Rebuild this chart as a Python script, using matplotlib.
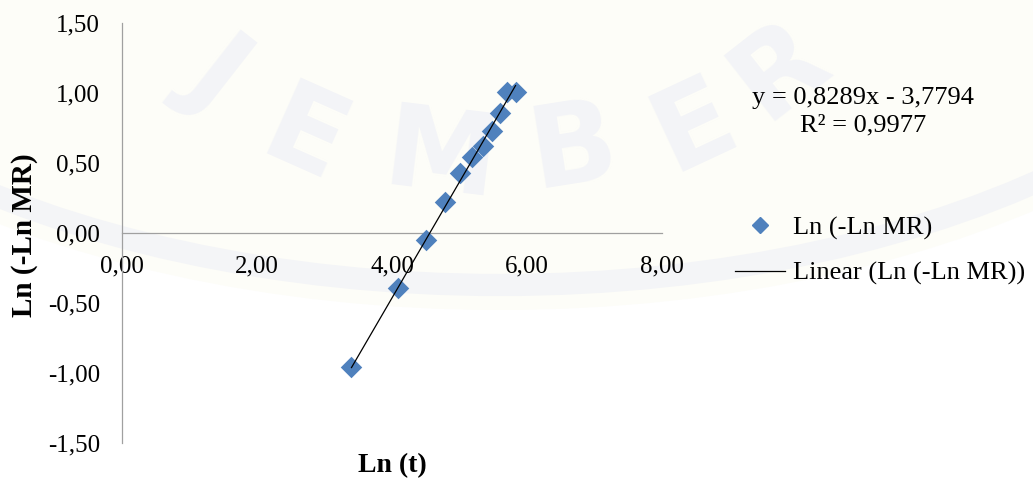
import matplotlib
matplotlib.use("Agg")
import matplotlib.pyplot as plt
import numpy as np
from matplotlib.patches import Ellipse, Arc
from matplotlib.ticker import FuncFormatter, MultipleLocator
from matplotlib.lines import Line2D

# Weibull linearisation: ln(t) against ln(-ln MR)
ln_t = [3.40, 4.09, 4.50, 4.79, 5.01, 5.19, 5.35, 5.48, 5.60, 5.71, 5.83]
ln_neg_ln_mr = [-0.96, -0.39, -0.05, 0.22, 0.43, 0.54, 0.62, 0.73, 0.86, 1.01, 1.01]

# trendline as reported
slope = 0.8289
intercept = -3.7794
r_squared = 0.9977

W, H = 1033, 482
plt.rcParams["font.family"] = ["Liberation Serif", "DejaVu Serif"]

fig = plt.figure(figsize=(W / 100, H / 100), dpi=100)
fig.patch.set_facecolor("white")


def fx(x):
    return x / W


def fy(y):
    return 1 - y / H


# faint background seal (drawn in pixel space)
bg = fig.add_axes([0, 0, 1, 1], zorder=-5)
bg.set_xlim(0, W)
bg.set_ylim(H, 0)
bg.axis("off")
bg.add_patch(Ellipse((500, -150), 1720, 920, facecolor="#fdfdf8", edgecolor="none"))
bg.add_patch(Arc((500, -150), 1660, 870, theta1=0, theta2=180,
                 color="#f4f5f7", linewidth=16))
seal_letters = ["J", "E", "M", "B", "E", "R"]
seal_x = [218, 304, 441, 573, 694, 780]
seal_y = [72, 140, 160, 150, 127, 70]
seal_rot = [-38, -24, -7, 9, 25, 38]
for ch, x, y, r in zip(seal_letters, seal_x, seal_y, seal_rot):
    bg.text(x, y, ch, rotation=r, ha="center", va="center", fontsize=82,
            fontweight="bold", family="DejaVu Sans", color="#f3f4f7")

# main axes
ax = fig.add_axes([fx(122), fy(443), 540 / W, 420 / H])
ax.patch.set_alpha(0)
ax.set_xlim(0, 8)
ax.set_ylim(-1.5, 1.5)

ax.scatter(ln_t, ln_neg_ln_mr, marker="D", s=120, color="#4f81bd", zorder=3, linewidths=0)
xs = np.array([min(ln_t), max(ln_t)])
ax.plot(xs, slope * xs + intercept, color="black", linewidth=0.9, zorder=4)

for side in ["top", "right"]:
    ax.spines[side].set_visible(False)
ax.spines["bottom"].set_position(("data", 0))
for side in ["left", "bottom"]:
    ax.spines[side].set_color("#a0a0a0")
    ax.spines[side].set_linewidth(0.9)

comma = FuncFormatter(lambda v, p: f"{v:.2f}".replace(".", ","))
ax.xaxis.set_major_locator(MultipleLocator(2))
ax.yaxis.set_major_locator(MultipleLocator(0.5))
ax.xaxis.set_major_formatter(comma)
ax.yaxis.set_major_formatter(comma)
ax.tick_params(axis="x", length=0, pad=16, labelsize=18)
ax.tick_params(axis="y", length=0, pad=16, labelsize=18)

# axis titles
fig.text(fx(25), fy(235), "Ln (-Ln MR)", rotation=90, ha="center", va="center",
         fontsize=21, fontweight="bold")
fig.text(fx(392), fy(466), "Ln (t)", ha="center", va="center",
         fontsize=20, fontweight="bold")

# trendline equation
fig.text(fx(863), fy(112),
         f"y = {slope:.4f}x - {abs(intercept):.4f}".replace(".", ",")
         + "\n" + f"R² = {r_squared:.4f}".replace(".", ","),
         ha="center", va="center", multialignment="center", fontsize=19, linespacing=1.3)

handles = [
    Line2D([], [], marker="D", linestyle="none", color="#4f81bd", markersize=8),
    Line2D([], [], color="black", linewidth=0.9),
]
fig.legend(handles, ["Ln (-Ln MR)", "Linear (Ln (-Ln MR))"], loc="upper left",
           bbox_to_anchor=(fx(735), fy(216)), frameon=False, fontsize=19,
           handlelength=1.9, handletextpad=0.3, borderpad=0, borderaxespad=0,
           labelspacing=0.82)

fig.savefig("out.png", dpi=100)
plt.close(fig)
